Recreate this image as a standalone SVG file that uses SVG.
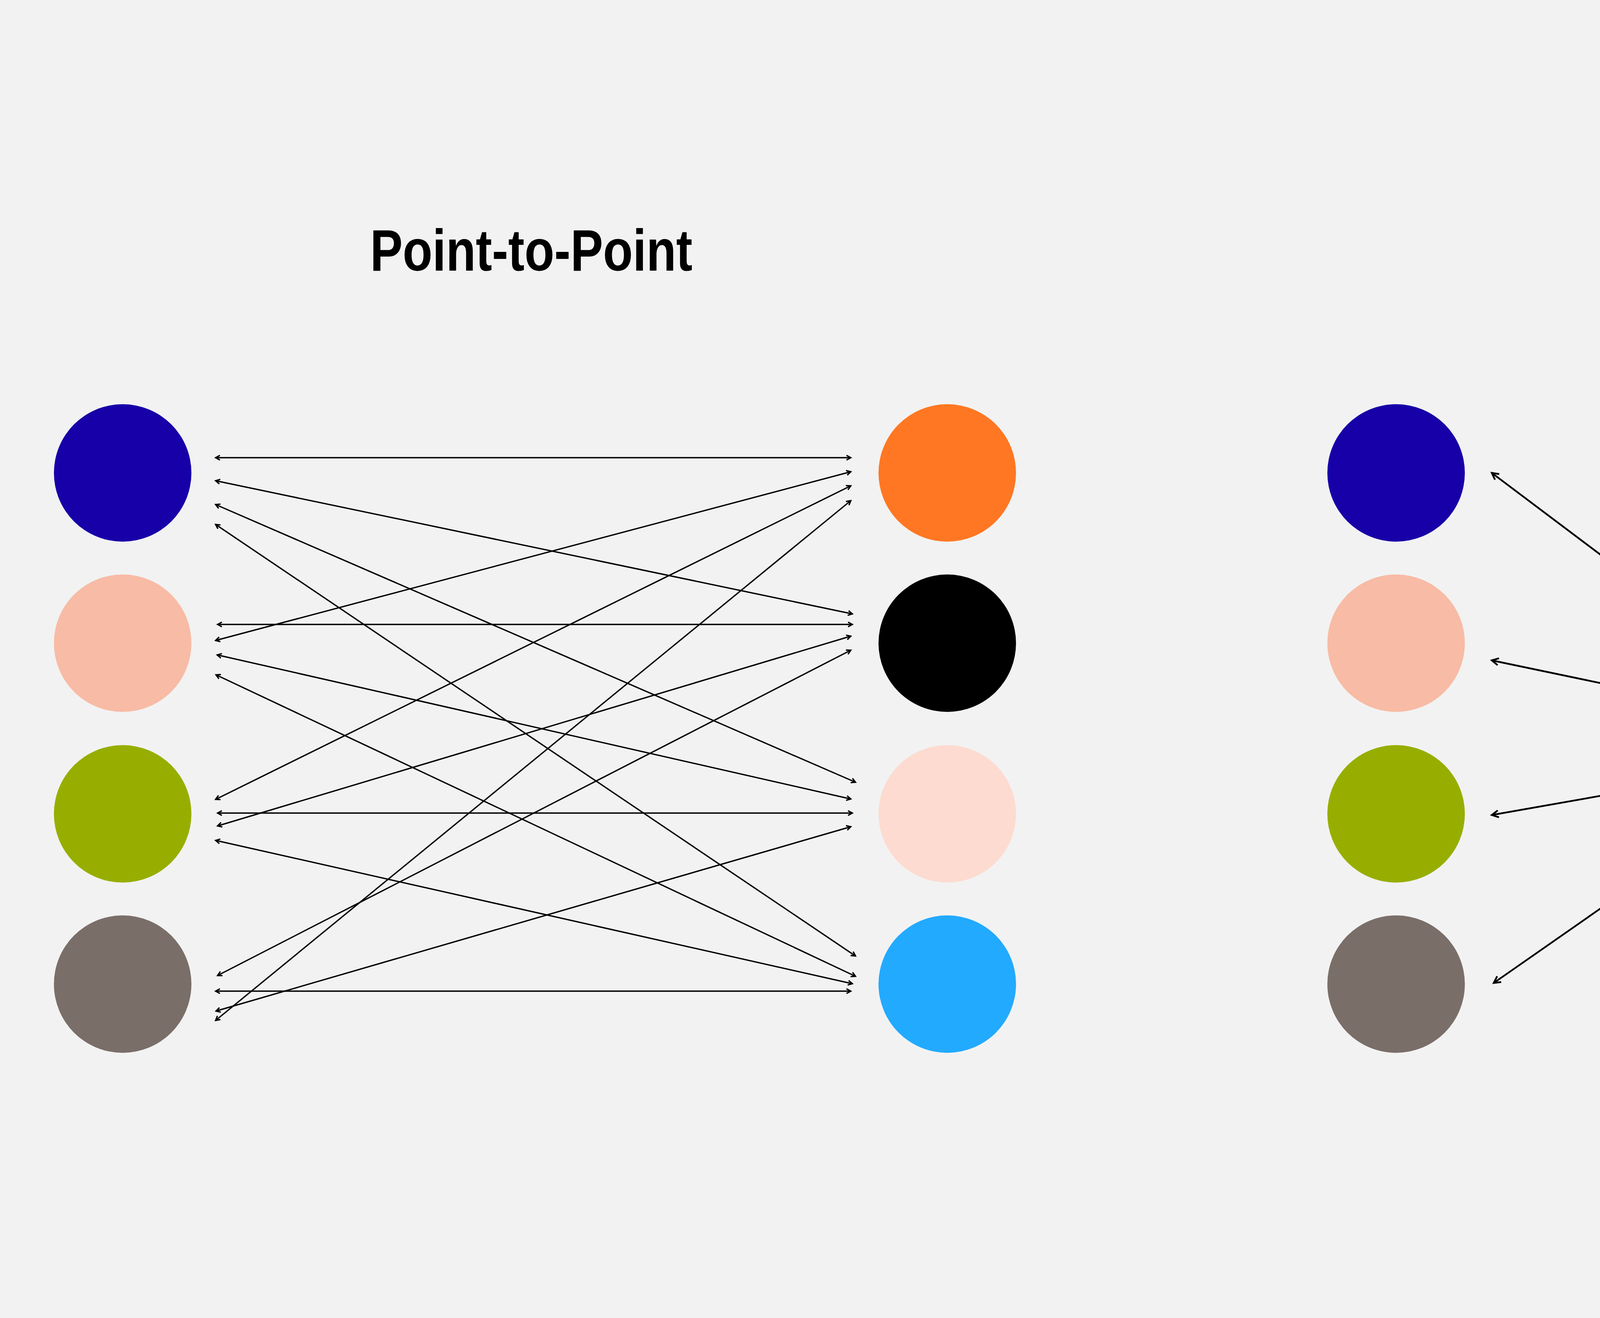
<svg xmlns="http://www.w3.org/2000/svg" width="6000" height="3375" viewBox="0 0 6000 3375">
<style>
.title{font-family:"Liberation Sans",Arial,sans-serif;font-weight:bold;font-size:151px;fill:#000}
.hubtxt{font-family:"Liberation Sans",Arial,sans-serif;font-size:140px;fill:#fff}
.p2p line{stroke:#000;stroke-width:3.5;fill:none;marker-start:url(#ah);marker-end:url(#ah)}
.hs line{stroke:#000;stroke-width:4.5;fill:none;marker-start:url(#ahb);marker-end:url(#ahb)}
</style>
<defs>
<marker id="ah" markerUnits="userSpaceOnUse" markerWidth="30" markerHeight="30" viewBox="-15 -15 30 30" refX="0" refY="0" orient="auto-start-reverse" overflow="visible">
<path d="M-11,-6 L0,0 L-11,6" fill="none" stroke="#000" stroke-width="3.5" stroke-linejoin="miter"/>
</marker>
<marker id="ahb" markerUnits="userSpaceOnUse" markerWidth="40" markerHeight="40" viewBox="-20 -20 40 40" refX="0" refY="0" orient="auto-start-reverse" overflow="visible">
<path d="M-17,-9 L0,0 L-17,9" fill="none" stroke="#000" stroke-width="4.5" stroke-linejoin="miter"/>
</marker>
</defs>
<rect x="0" y="0" width="6000" height="3375" fill="#f2f2f2"/>

<text class="title" x="1360" y="693" text-anchor="middle" textLength="825" lengthAdjust="spacingAndGlyphs">Point-to-Point</text>
<text class="title" x="4632" y="678" text-anchor="middle" textLength="963" lengthAdjust="spacingAndGlyphs">Hub-and-Spoke</text>

<g id="p2p-left-1"><circle cx="314" cy="1211" r="176" fill="#1700a8"/></g>
<g id="p2p-left-2"><circle cx="314" cy="1647" r="176" fill="#f8bba5"/></g>
<g id="p2p-left-3"><circle cx="314" cy="2084" r="176" fill="#97ae00"/></g>
<g id="p2p-left-4"><circle cx="314" cy="2520" r="176" fill="#7a6e68"/></g>
<g id="p2p-right-1"><circle cx="2425" cy="1211" r="176" fill="#ff7722"/></g>
<g id="p2p-right-2"><circle cx="2425" cy="1647" r="176" fill="#000000"/></g>
<g id="p2p-right-3"><circle cx="2425" cy="2084" r="176" fill="#fddbd0"/></g>
<g id="p2p-right-4"><circle cx="2425" cy="2520" r="176" fill="#22aaff"/></g>

<g id="p2p-connectors" class="p2p">
<line x1="552" y1="1172" x2="2178" y2="1172"/>
<line x1="552" y1="1231" x2="2182" y2="1572"/>
<line x1="552" y1="1292" x2="2190" y2="2003"/>
<line x1="552" y1="1343" x2="2190" y2="2448"/>
<line x1="557" y1="1599" x2="2182" y2="1599"/>
<line x1="552" y1="1640" x2="2178" y2="1208"/>
<line x1="556" y1="1677" x2="2178" y2="2046"/>
<line x1="553" y1="1728" x2="2190" y2="2500"/>
<line x1="552" y1="2047" x2="2178" y2="1244"/>
<line x1="557" y1="2082" x2="2182" y2="2082"/>
<line x1="557" y1="2115" x2="2178" y2="1629"/>
<line x1="552" y1="2152" x2="2182" y2="2519"/>
<line x1="557" y1="2498" x2="2178" y2="1665"/>
<line x1="552" y1="2538" x2="2178" y2="2538"/>
<line x1="553" y1="2589" x2="2178" y2="2117"/>
<line x1="552" y1="2613" x2="2178" y2="1282"/>
</g>

<g id="hs-left-1"><circle cx="3574" cy="1211" r="176" fill="#1700a8"/></g>
<g id="hs-left-2"><circle cx="3574" cy="1647" r="176" fill="#f8bba5"/></g>
<g id="hs-left-3"><circle cx="3574" cy="2084" r="176" fill="#97ae00"/></g>
<g id="hs-left-4"><circle cx="3574" cy="2520" r="176" fill="#7a6e68"/></g>
<g id="hs-right-1"><circle cx="5685" cy="1211" r="176" fill="#ff7722"/></g>
<g id="hs-right-2"><circle cx="5685" cy="1647" r="176" fill="#000000"/></g>
<g id="hs-right-3"><circle cx="5685" cy="2084" r="176" fill="#fddbd0"/></g>
<g id="hs-right-4"><circle cx="5685" cy="2520" r="176" fill="#22aaff"/></g>
<g id="hub">
<circle cx="4630" cy="1866" r="305" fill="#000000"/>
<text class="hubtxt" x="4631" y="1913" text-anchor="middle" textLength="236" lengthAdjust="spacingAndGlyphs">HUB</text>
</g>

<g id="hs-connectors" class="hs">
<line x1="3819" y1="1211" x2="4320" y2="1588"/>
<line x1="3819" y1="1691" x2="4278" y2="1787"/>
<line x1="3819" y1="2087" x2="4278" y2="2006"/>
<line x1="3824" y1="2517" x2="4320" y2="2171"/>
<line x1="4940" y1="1587" x2="5441" y2="1241"/>
<line x1="4993" y1="1734" x2="5452" y2="1648"/>
<line x1="4986" y1="1981" x2="5441" y2="2081"/>
<line x1="4940" y1="2139" x2="5441" y2="2516"/>
</g>
</svg>
